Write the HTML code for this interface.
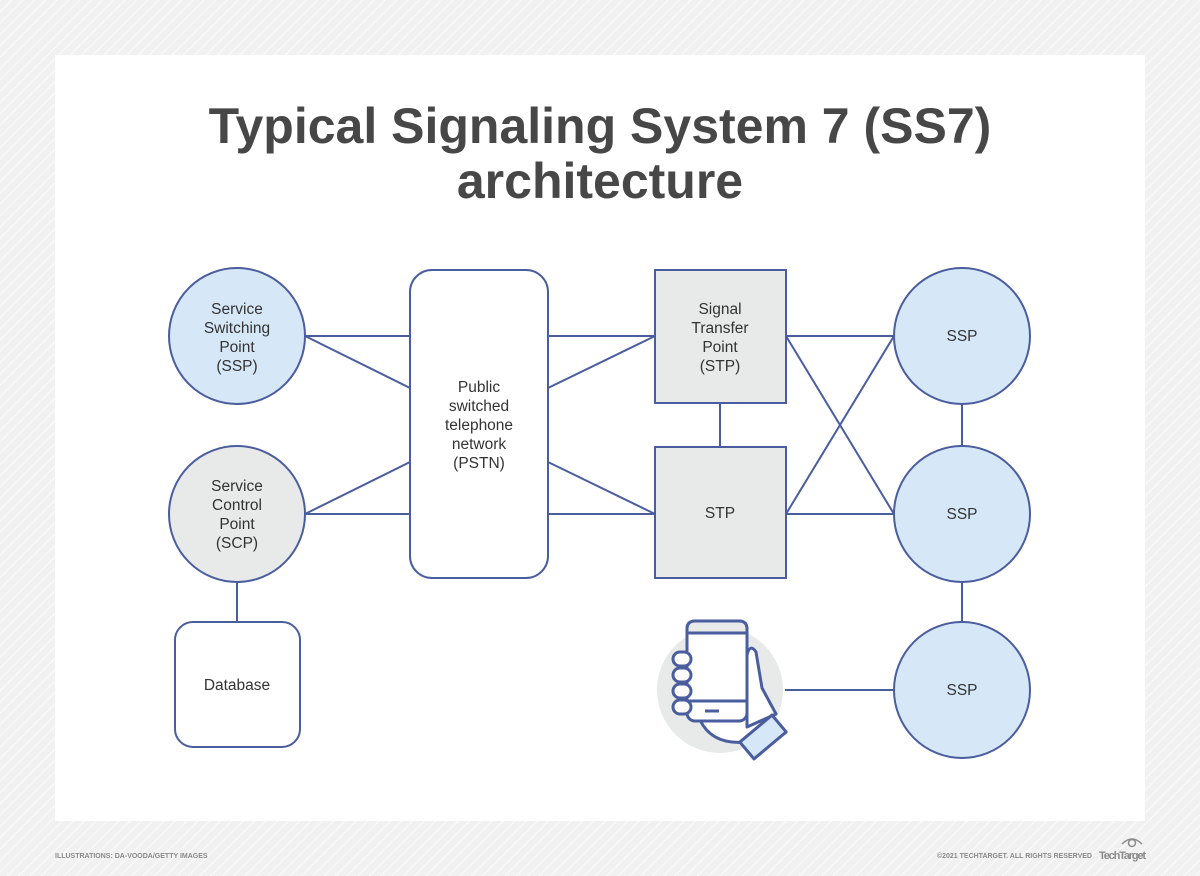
<!DOCTYPE html>
<html><head><meta charset="utf-8"><style>
html,body{margin:0;padding:0}
body{width:1200px;height:876px;background:#f1f1f1;position:relative;overflow:hidden;font-family:"Liberation Sans",sans-serif}
</style></head><body>
<svg width="1200" height="876" viewBox="0 0 1200 876" xmlns="http://www.w3.org/2000/svg" style="position:absolute;left:0;top:0">
<defs><pattern id="st" width="8" height="8" patternUnits="userSpaceOnUse" patternTransform="rotate(45)"><rect width="8" height="8" fill="#f1f1f1"/><line x1="0" y1="0" x2="0" y2="8" stroke="#fbfbfb" stroke-width="2"/></pattern></defs>
<rect width="1200" height="876" fill="url(#st)"/>
<rect x="55" y="55" width="1090" height="766" fill="#fff"/>
<g font-family="Liberation Sans, sans-serif" font-weight="bold" fill="#474747" font-size="50" text-anchor="middle">
<text x="600" y="143">Typical Signaling System 7 (SS7)</text>
<text x="600" y="198">architecture</text>
</g>
<g stroke="#4a5d9e" stroke-width="2" fill="none">
<line x1="305" y1="336" x2="410" y2="336"/><line x1="305" y1="336" x2="410" y2="388"/>
<line x1="305" y1="514" x2="410" y2="514"/><line x1="305" y1="514" x2="410" y2="462"/>
<line x1="548" y1="336" x2="655" y2="336"/><line x1="548" y1="388" x2="655" y2="336"/>
<line x1="548" y1="462" x2="655" y2="514"/><line x1="548" y1="514" x2="655" y2="514"/>
<line x1="720" y1="403" x2="720" y2="447"/>
<line x1="786" y1="336" x2="894" y2="336"/><line x1="786" y1="336" x2="894" y2="514"/>
<line x1="786" y1="514" x2="894" y2="514"/><line x1="786" y1="514" x2="894" y2="336"/>
<line x1="962" y1="404" x2="962" y2="446"/><line x1="962" y1="582" x2="962" y2="622"/>
<line x1="785" y1="690" x2="894" y2="690"/><line x1="237" y1="582" x2="237" y2="622"/>
<circle cx="237" cy="336" r="68" fill="#d6e8f8"/>
<circle cx="237" cy="514" r="68" fill="#e8e9e9"/>
<rect x="175" y="622" width="125" height="125" rx="18" fill="#fff"/>
<rect x="410" y="270" width="138" height="308" rx="22" fill="#fff"/>
<rect x="655" y="270" width="131" height="133" fill="#e8e9e9"/>
<rect x="655" y="447" width="131" height="131" fill="#e8e9e9"/>
<circle cx="962" cy="336" r="68" fill="#d6e8f8"/>
<circle cx="962" cy="514" r="68" fill="#d6e8f8"/>
<circle cx="962" cy="690" r="68" fill="#d6e8f8"/>
</g>
<circle cx="720" cy="690" r="63" fill="#e8e9e9"/>
<g stroke="#4a5d9e" stroke-width="3" fill="#fff" stroke-linejoin="round">
<path d="M700 720 Q712 745 745 742 L770 735 L760 690 L748 660 Q740 650 737 665 L737 700 Z"/>
<rect x="687" y="621" width="60" height="100" rx="8"/>
<path d="M687 633 L747 633 L747 629 Q747 621 739 621 L695 621 Q687 621 687 629 Z" fill="#e8e9e9"/>
<line x1="687" y1="701" x2="747" y2="701"/>
<line x1="705" y1="711" x2="719" y2="711"/>
<path d="M747 655 Q750 643 756 652 L762 688 L776 714 L747 727 Z" fill="#fff"/>
<rect x="673" y="652" width="18" height="14" rx="7"/>
<rect x="673" y="668" width="18" height="14" rx="7"/>
<rect x="673" y="684" width="18" height="14" rx="7"/>
<rect x="673" y="700" width="18" height="14" rx="7"/>
<rect x="742" y="726" width="42" height="22" transform="rotate(-40 763 737)" fill="#d6e8f8"/>
</g>
<g font-family="Liberation Sans, sans-serif" font-size="15.5" fill="#333" text-anchor="middle">
<text x="237" y="314">Service</text><text x="237" y="333">Switching</text><text x="237" y="352">Point</text><text x="237" y="371">(SSP)</text>
<text x="237" y="491">Service</text><text x="237" y="510">Control</text><text x="237" y="529">Point</text><text x="237" y="548">(SCP)</text>
<text x="237" y="690">Database</text>
<text x="479" y="392">Public</text><text x="479" y="411">switched</text><text x="479" y="430">telephone</text><text x="479" y="449">network</text><text x="479" y="468">(PSTN)</text>
<text x="720" y="314">Signal</text><text x="720" y="333">Transfer</text><text x="720" y="352">Point</text><text x="720" y="371">(STP)</text>
<text x="720" y="518">STP</text>
<text x="962" y="341">SSP</text><text x="962" y="519">SSP</text><text x="962" y="695">SSP</text>
</g>
<g font-family="Liberation Sans, sans-serif" font-size="7" font-weight="bold" fill="#8a8a8a">
<text x="55" y="858">ILLUSTRATIONS: DA-VOODA/GETTY IMAGES</text>
<text x="1092" y="858" text-anchor="end">©2021 TECHTARGET. ALL RIGHTS RESERVED</text>
</g>
<text x="1146" y="859" text-anchor="end" font-family="Liberation Sans, sans-serif" font-size="11" font-weight="bold" fill="#8a8a8a" textLength="47">TechTarget</text>
<g stroke="#8a8a8a" stroke-width="1.5" fill="none"><path d="M1122 844 Q1132 834 1142 844"/><circle cx="1132" cy="843" r="3.5"/></g>
</svg>
</body></html>
